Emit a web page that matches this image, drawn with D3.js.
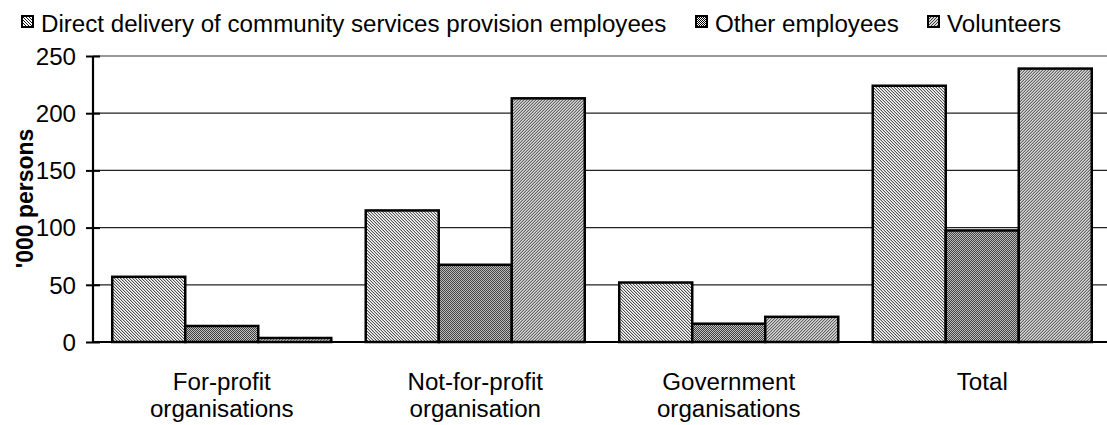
<!DOCTYPE html>
<html>
<head>
<meta charset="utf-8">
<script src="https://cdn.jsdelivr.net/npm/d3@7"></script>
<style>
  html, body { margin: 0; padding: 0; background: #fff; }
  svg { display: block; }
  text { font-family: "Liberation Sans", Arial, sans-serif; fill: #000; }
</style>
</head>
<body>
<svg id="chart" width="1107" height="425"></svg>
<script>
const categories = [["For-profit", "organisations"], ["Not-for-profit", "organisation"], ["Government", "organisations"], ["Total"]];
const seriesNames = ["Direct delivery of community services provision employees", "Other employees", "Volunteers"];
const directValues = [57, 115, 52, 224];
const otherValues = [14, 67.5, 16, 97.5];
const volunteerValues = [3.5, 213, 22, 239];
const yTicks = [0, 50, 100, 150, 200, 250];
const yLabel = "'000 persons";

(function () {
const seriesValues = [directValues, otherValues, volunteerValues];
const FS = 23, SX = 1.05;

const svg = d3.select("#chart");
const defs = svg.append("defs");

function pixPattern(id, size, bg, fg, pixels) {
  const p = defs.append("pattern").attr("id", id).attr("patternUnits", "userSpaceOnUse")
    .attr("width", size).attr("height", size);
  p.append("rect").attr("width", size).attr("height", size).attr("fill", bg);
  pixels.forEach(([x, y]) => p.append("rect").attr("x", x).attr("y", y).attr("width", 1).attr("height", 1)
    .attr("fill", fg).attr("shape-rendering", "crispEdges"));
}
pixPattern("p0", 3, "#ffffff", "#1a1a1a", [[0,0],[1,1],[2,2]]);
pixPattern("p1", 2, "#ffffff", "#000000", [[0,0],[1,1]]);
pixPattern("p2", 3, "#d8d8d8", "#3a3a3a", [[2,0],[1,1],[0,2]]);
const fills = ["url(#p0)", "url(#p1)", "url(#p2)"];

const mLeft = 93, mRight = 1107, mTop = 56, mBottom = 342;
const x0 = d3.scaleBand().domain(d3.range(categories.length)).range([mLeft + 2, mRight + 2])
  .paddingInner(0.136).paddingOuter(0.068);
const x1 = d3.scaleBand().domain(d3.range(seriesNames.length)).range([0, x0.bandwidth()]).padding(0);
const y = d3.scaleLinear().domain([0, 250]).range([mBottom, mTop]);

// gridlines
svg.append("g").selectAll("line").data(yTicks.filter(d => d > 0)).join("line")
  .attr("x1", mLeft).attr("x2", mRight).attr("y1", d => y(d)).attr("y2", d => y(d))
  .attr("stroke", d => d === 250 ? "#777" : "#222").attr("stroke-width", 1.3);

// bars
const groups = svg.append("g").selectAll("g").data(categories).join("g")
  .attr("transform", (d, i) => `translate(${x0(i)},0)`);
groups.selectAll("rect").data((d, i) => seriesValues.map((vals, s) => ({ s, v: vals[i] }))).join("rect")
  .attr("x", d => x1(d.s)).attr("width", x1.bandwidth())
  .attr("y", d => y(d.v)).attr("height", d => y(0) - y(d.v))
  .attr("fill", d => fills[d.s]).attr("stroke", "#000").attr("stroke-width", 2.5);

// y axis
const yAxis = d3.axisLeft(y).tickValues(yTicks).tickSize(0).tickPadding(0);
const ya = svg.append("g").attr("transform", `translate(${mLeft},0)`).call(yAxis);
ya.select(".domain").remove();
ya.selectAll("text").remove();
ya.append("line").attr("x1", 0).attr("x2", 0).attr("y1", mTop).attr("y2", mBottom).attr("stroke", "#000").attr("stroke-width", 2.2);
ya.selectAll(".tick").append("line").attr("x1", -7).attr("x2", 7).attr("stroke", "#000").attr("stroke-width", 2);
ya.selectAll(".tick").append("text")
  .attr("transform", `translate(-17,0) scale(${SX},1)`)
  .attr("text-anchor", "end").attr("dy", "0.36em").style("font-size", FS + "px").text(d => d);

// x axis line
svg.append("line").attr("x1", mLeft).attr("x2", mRight).attr("y1", y(0)).attr("y2", y(0))
  .attr("stroke", "#000").attr("stroke-width", 2.2);

// x labels
const xl = svg.append("g").selectAll("g").data(categories).join("g")
  .attr("transform", (d, i) => `translate(${x0(i) + x0.bandwidth() / 2},0)`);
xl.selectAll("text").data(d => d).join("text")
  .attr("transform", (d, j) => `translate(0,${389.5 + j * 27.5}) scale(${SX},1)`)
  .attr("text-anchor", "middle").style("font-size", FS + "px").text(d => d);

// y label
svg.append("text").attr("transform", `translate(33,198.5) rotate(-90) scale(1,${SX})`)
  .attr("text-anchor", "middle").style("font-size", FS + "px").style("font-weight", "bold").text(yLabel);

// legend
const legendX = [21, 695, 927];
const lg = svg.append("g").selectAll("g").data(seriesNames).join("g")
  .attr("transform", (d, i) => `translate(${legendX[i]},15)`);
lg.append("rect").attr("x", 1).attr("y", 1).attr("width", 11).attr("height", 11)
  .attr("fill", (d, i) => fills[i]).attr("stroke", "#000").attr("stroke-width", 2);
lg.append("text").attr("transform", `translate(20,16.5) scale(${SX},1)`)
  .style("font-size", FS + "px").text(d => d);
})();
</script>
</body>
</html>
